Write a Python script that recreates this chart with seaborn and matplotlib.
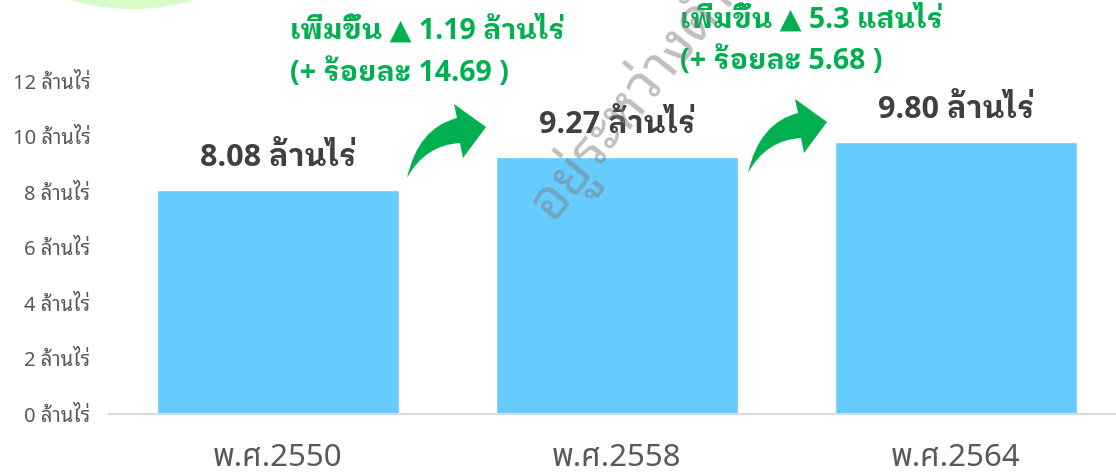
import matplotlib
matplotlib.use("Agg")
import matplotlib.pyplot as plt
import seaborn as sns
import pandas as pd
from matplotlib.path import Path
from matplotlib.patches import PathPatch, Circle
from matplotlib.transforms import Affine2D

# Area (million rai) by Buddhist-era year
years = ["พ.ศ.2550", "พ.ศ.2558", "พ.ศ.2564"]
area_million_rai = [8.08, 9.27, 9.80]
y_ticks = [0, 2, 4, 6, 8, 10, 12]
y_tick_labels = [f"{t} ล้านไร่" for t in y_ticks]
change_lines = [
    ["เพิ่มขึ้น ▲ 1.19 ล้านไร่", "(+ ร้อยละ 14.69 )"],
    ["เพิ่มขึ้น ▲ 5.3 แสนไร่", "(+ ร้อยละ 5.68 )"],
]

BAR = "#66CCFF"
GREEN = "#00B050"
DARK = "#404040"
GREY = "#595959"

THAI_LOOP = ["Noto Sans", "Noto Sans Thai Looped", "DejaVu Sans"]
THAI_PLAIN = ["Noto Sans", "Noto Sans Thai", "DejaVu Sans"]
THAI_BOLD = ["Open Sans", "IBM Plex Sans Thai Looped", "DejaVu Sans"]

sns.set_theme(style="white")
plt.rcParams["font.family"] = THAI_LOOP

W, H = 1116, 473
fig = plt.figure(figsize=(W / 100, H / 100), dpi=100)
# pixel coordinates measured from the top-left corner of the figure
px = Affine2D().scale(1 / W, -1 / H).translate(0, 1) + fig.transFigure

# decorative pale circle peeking in at the top-left
fig.patches.append(Circle((132, -205), 214, transform=px, facecolor="#D6FDC8",
                          edgecolor="none", zorder=0))

left, right = 108.5 / W, 1125.5 / W
bottom, top = 1 - 414 / H, 1 - 81 / H
ax = fig.add_axes([left, bottom, right - left, top - bottom])
ax.patch.set_alpha(0)

df = pd.DataFrame({"year": years, "area": area_million_rai})
sns.barplot(data=df, x="year", y="area", color=BAR, saturation=1, width=0.714, ax=ax)

ax.set_ylim(0, 12)
ax.set_xlim(-0.5, 2.5)
ax.set_yticks(y_ticks)
ax.set_yticklabels(y_tick_labels, fontsize=14.5, color=GREY, family=THAI_LOOP)
ax.set_xticks(range(len(years)))
ax.set_xticklabels(years, fontsize=22.5, color=GREY, family=THAI_PLAIN)
ax.tick_params(axis="y", length=0, pad=13)
ax.tick_params(axis="x", length=0, pad=21)
ax.set_xlabel("")
ax.set_ylabel("")
for side in ["top", "right", "left"]:
    ax.spines[side].set_visible(False)
ax.spines["bottom"].set_color("#D9D9D9")
ax.spines["bottom"].set_linewidth(1.5)

ax.bar_label(ax.containers[0], labels=[f"{v:.2f} ล้านไร่" for v in area_million_rai],
             padding=12, fontsize=22, fontweight="bold", color=DARK, family=THAI_BOLD)

# growth call-outs
for (l1, l2), (x0, y1, y2) in zip(change_lines, [(290, 31, 73), (680, 20, 61)]):
    for txt, yy in ((l1, y1), (l2, y2)):
        fig.text(x0 / W, 1 - yy / H, txt, ha="left", va="center", fontsize=20.5,
                 fontweight="bold", color=GREEN, family=THAI_BOLD)


def curved_arrow(dx, dy):
    pts = [(407, 178), (418, 128), (457, 118), (454, 104), (486, 127),
           (463, 158), (460, 143), (425, 145), (407, 178)]
    codes = [Path.MOVETO, Path.CURVE3, Path.CURVE3, Path.LINETO, Path.LINETO,
             Path.LINETO, Path.LINETO, Path.CURVE3, Path.CURVE3]
    path = Path([(x + dx, y + dy) for x, y in pts], codes)
    return PathPatch(path, transform=px, facecolor=GREEN, edgecolor="none", zorder=5)


fig.patches.append(curved_arrow(0, 0))
fig.patches.append(curved_arrow(341, -5))

# watermark
fig.text(552 / W, 1 - 222 / H, "อยู่ระหว่างดำเนินการ", rotation=51, rotation_mode="anchor",
         ha="left", va="baseline", fontsize=40, color="#7F7F7F", alpha=0.5,
         family=["Noto Sans Thai Looped", "DejaVu Sans"], zorder=10)

fig.savefig("out.png", dpi=100)
